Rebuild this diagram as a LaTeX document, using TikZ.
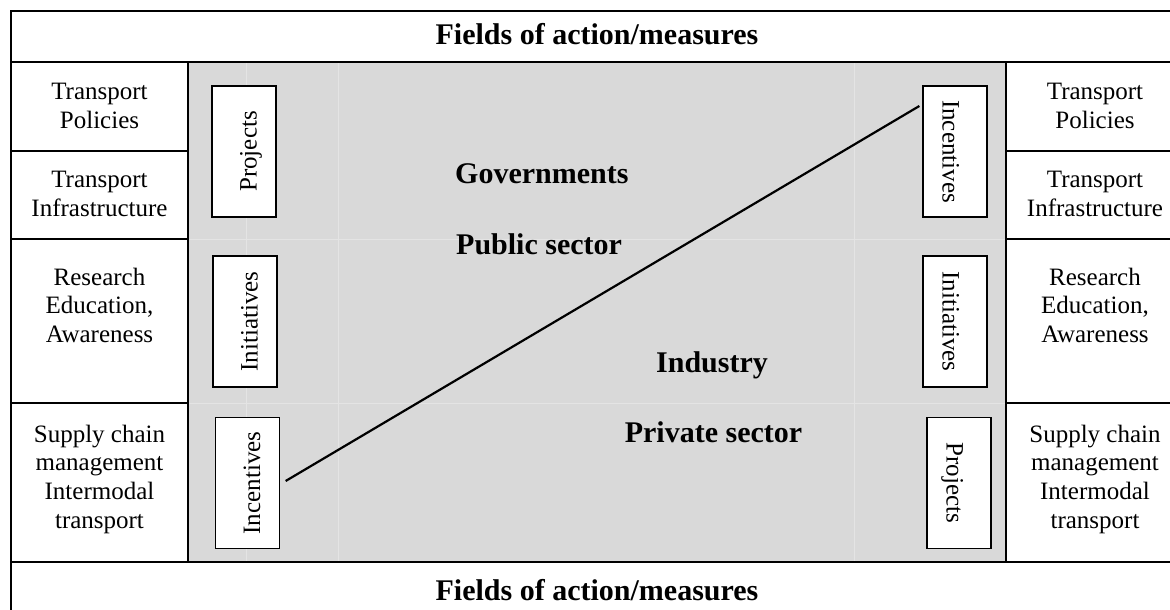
\documentclass[tikz,border=0pt]{standalone}
\usepackage{fontspec}
\setmainfont{Liberation Serif}
\newcommand\cellfont{\fontsize{25}{28.8}\selectfont}
\newcommand\headfont{\fontsize{30}{34}\selectfont\bfseries}
\definecolor{panelgray}{HTML}{D9D9D9}
\definecolor{faintgray}{HTML}{E4E4E4}
\tikzset{
  frame/.style={line width=2pt, line cap=rect},
  faintline/.style={draw=faintgray, line width=0.8pt},
  cell/.style={font=\cellfont, align=center, anchor=north, inner sep=0pt},
  head/.style={font=\headfont, inner sep=0pt},
  vbox/.style={draw, line width=1.3pt, fill=white, minimum width=131pt, minimum height=64pt,
    text height=25pt, text depth=0pt, inner sep=0pt, font=\cellfont},
  divider/.style={line width=2.2pt}
}
\begin{document}
\begin{tikzpicture}[x=1pt,y=-1pt]
\useasboundingbox (0,0) rectangle (1170,610);
% shaded middle area
\fill[panelgray] (188,62) rectangle (1006,562);
\draw[faintline] (246,62) -- (246,562);
\draw[faintline] (338,62) -- (338,562);
\draw[faintline] (854,62) -- (854,562);
\draw[faintline] (188,239) -- (1006,239);
\draw[faintline] (188,403) -- (1006,403);
% frame lines
\draw[frame] (11,610) -- (11,11) -- (1172,11);
\draw[frame] (11,62) -- (1172,62);
\draw[frame] (11,562) -- (1172,562);
\draw[frame] (188,62) -- (188,562);
\draw[frame] (1006,62) -- (1006,562);
\draw[frame] (11,151) -- (188,151);
\draw[frame] (11,239) -- (188,239);
\draw[frame] (11,403) -- (188,403);
\draw[frame] (1006,151) -- (1172,151);
\draw[frame] (1006,239) -- (1172,239);
\draw[frame] (1006,403) -- (1172,403);
% headings
\node[head, anchor=base] (toph) at (597,45) {Fields of action/measures};
\node[head, anchor=base] (both) at (597,600) {Fields of action/measures};
% left column
\node[cell] (l1) at (99.5,83) {Transport\\Policies};
\node[cell] (l2) at (99.5,171) {Transport\\Infrastructure};
\node[cell] (l3) at (99.5,267.5) {Research\\Education,\\Awareness};
\node[cell] (l4) at (99.5,424.5) {Supply chain\\management\\Intermodal\\transport};
% right column
\node[cell] (r1) at (1095,83) {Transport\\Policies};
\node[cell] (r2) at (1095,171) {Transport\\Infrastructure};
\node[cell] (r3) at (1095,267.5) {Research\\Education,\\Awareness};
\node[cell] (r4) at (1095,424.5) {Supply chain\\management\\Intermodal\\transport};
% vertical boxes
\node[vbox, rotate=90] (lproj) at (244,151.5) {Projects};
\node[vbox, rotate=90] (linit) at (245,321.5) {Initiatives};
\node[vbox, rotate=90] (linc) at (247.5,483) {Incentives};
\node[vbox, rotate=-90] (rinc) at (955,151.5) {Incentives};
\node[vbox, rotate=-90] (rinit) at (955,321.5) {Initiatives};
\node[vbox, rotate=-90] (rproj) at (959,483) {Projects};
% centre labels
\node[head, anchor=base west] (gov) at (455,183) {Governments};
\node[head, anchor=base west] (pub) at (456,254) {Public sector};
\node[head, anchor=base] (ind) at (712,372) {Industry};
\node[head, anchor=base] (priv) at (713.5,442) {Private sector};
% diagonal divider
\draw[divider] ([shift={(5.5pt,2pt)}]linc.south) -- ([shift={(-3pt,45.5pt)}]rinc.south);
\end{tikzpicture}
\end{document}
